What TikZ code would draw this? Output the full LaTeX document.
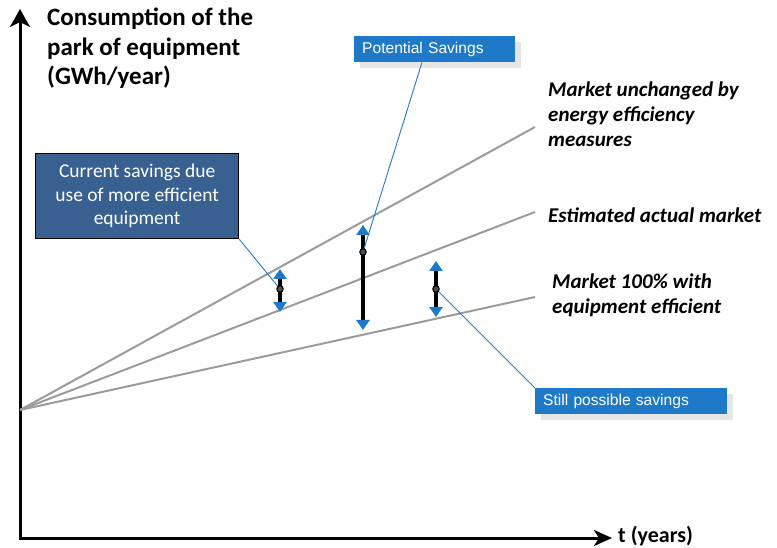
\documentclass[tikz,border=0pt]{standalone}
\usepackage{fontspec}
\setmainfont{Carlito}
\newfontfamily\arialf{Liberation Sans}
\usetikzlibrary{arrows.meta,shadows}
\definecolor{boxblue}{RGB}{30,122,200}
\definecolor{darkbox}{RGB}{56,96,145}
\definecolor{lineg}{RGB}{155,155,155}
\begin{document}
\begin{tikzpicture}[x=1pt,y=-1pt,
  axis/.style={line width=3pt,{Stealth[length=18pt,width=20pt,inset=5pt]}-{Stealth[length=18pt,width=16pt,inset=5pt]}},
  mline/.style={lineg,line width=2pt},
  lbl/.style={font=\fontsize{21}{25}\selectfont\bfseries\itshape, anchor=west, align=left, inner sep=0},
  ylbl/.style={font=\fontsize{25}{29.5}\selectfont\bfseries, anchor=north west, align=left, inner sep=0},
  dbl/.style={line width=3.5pt,{Triangle[color=boxblue,length=10pt,width=13pt]}-{Triangle[color=boxblue,length=10pt,width=13pt]}},
  dot/.style={circle,draw=black,line width=1pt,fill=black!70,inner sep=0,minimum size=6.5pt},
  conn/.style={boxblue,line width=0.9pt},
  callout/.style={fill=boxblue,text=white,font=\arialf\fontsize{15.6}{18}\selectfont,anchor=north west,
    inner xsep=8pt,inner ysep=0pt,minimum height=26pt,align=left,
    drop shadow={shadow xshift=6pt,shadow yshift=-6pt,fill=black!10,opacity=1}},
  darkcallout/.style={fill=darkbox,draw=black,line width=1.3pt,text=white,
    font=\fontsize{19.5}{23.5}\selectfont,align=center,anchor=north west,
    minimum width=203pt,minimum height=85pt,inner sep=0}
]
\useasboundingbox (0,0) rectangle (777,548);

% axes
\coordinate (ytop) at (20,9);
\coordinate (O) at (20,538);
\coordinate (xend) at (612,538);
\draw[axis] (ytop) -- (O) -- (xend);

% market lines
\coordinate (L0) at (20,410);
\coordinate (L1) at (535,127);
\coordinate (L2) at (535,212);
\coordinate (L3) at (535,297);
\draw[mline] (L0) -- (L1);
\draw[mline] (L0) -- (L2);
\draw[mline] (L0) -- (L3);

% labels
\node[ylbl] (ylab) at (47,8) {Consumption of the\\park of equipment\\(GWh/year)};
\node[font=\fontsize{22}{26}\selectfont\bfseries,anchor=west,inner sep=0] (xlab) at (618,536) {t (years)};
\node[lbl] (lab1) at (548,114) {Market unchanged by\\energy efficiency\\measures};
\node[lbl] (lab2) at (548,215) {Estimated actual market};
\node[lbl] (lab3) at (552,295) {Market 100\% with\\equipment efficient};

% callouts
\node[darkcallout] (cs) at (35,153) {Current savings due\\use of more efficient\\equipment};
\node[callout,text width=145pt] (ps) at (354,36) {Potential Savings};
\node[callout,text width=176pt] (sp) at (535,388) {Still possible savings};

% double arrows
\coordinate (a1t) at (280,269); \coordinate (a1b) at (280,312);
\coordinate (a2t) at (363,225); \coordinate (a2b) at (363,330);
\coordinate (a3t) at (436,261); \coordinate (a3b) at (436,317);
\draw[dbl] (a1t) -- (a1b);
\draw[dbl] (a2t) -- (a2b);
\draw[dbl] (a3t) -- (a3b);

% connectors
\coordinate (d1) at (280,289);
\coordinate (d2) at (363,252);
\coordinate (d3) at (436,289);
\draw[conn] (cs.south east) -- (d1);
\draw[conn] ([xshift=68pt]ps.south west) -- (d2);
\draw[conn] (d3) -- (sp.north west);
\node[dot] (dot1) at (d1) {};
\node[dot] (dot2) at (d2) {};
\node[dot] (dot3) at (d3) {};
\end{tikzpicture}
\end{document}
